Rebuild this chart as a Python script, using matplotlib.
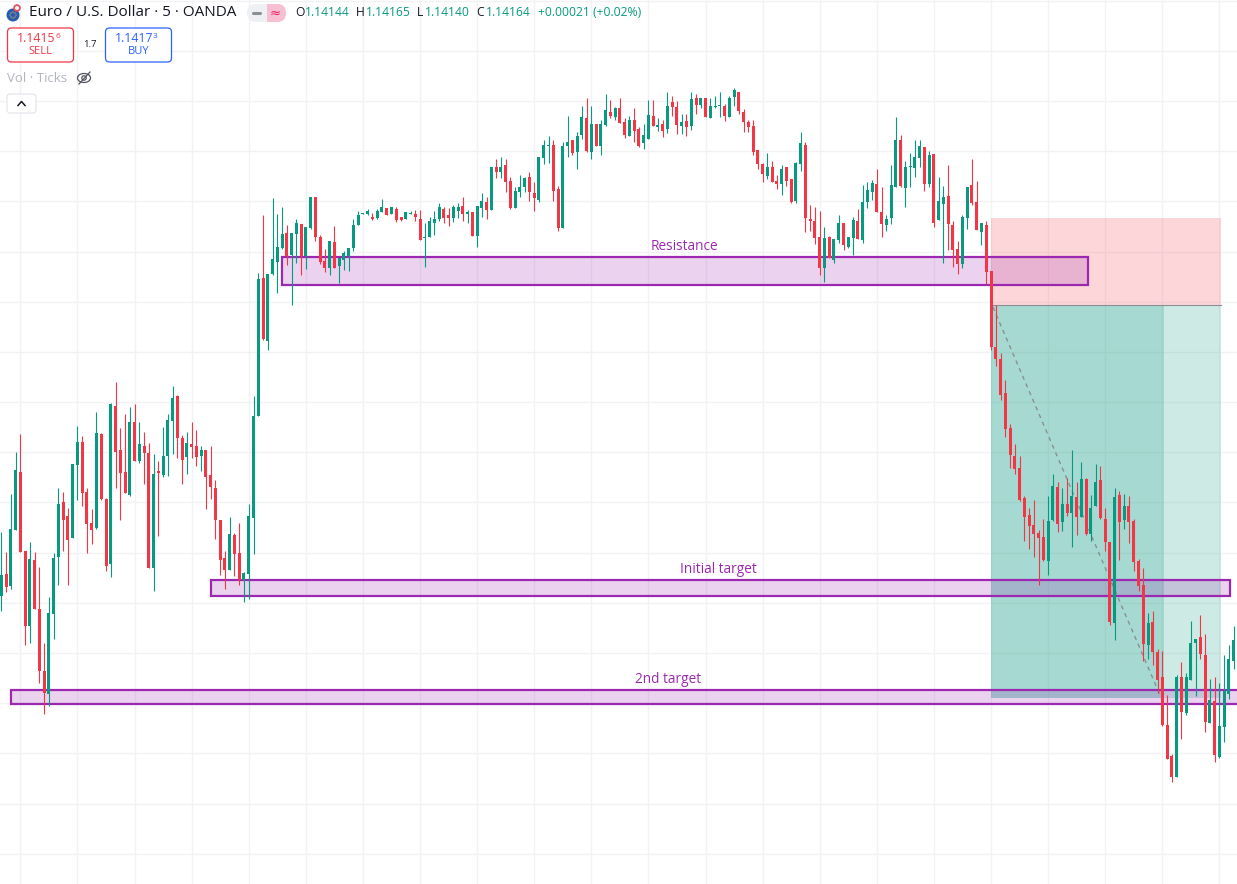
import matplotlib
matplotlib.use("Agg")
import matplotlib.pyplot as plt
import numpy as np
from matplotlib.patches import Circle, Ellipse, FancyBboxPatch, Rectangle

# Candles, in chart points above PRICE_BASE (one point is about one pipette)
opens = [
  404,426,414,470,528,449,374,440,391,329, 306,386,443,498,484,462,535,558,508,477,
  472,566,501,436,594,550,528,505,578,539, 554,547,432,529,525,544,579,604,562,543,
  556,554,544,550,525,512,480,442,430,465, 447,420,426,482,584,722,659,726,738,752,
  767,745,766,776,744,772,803,763,739,732, 758,734,740,744,752,775,786,786,783,782,
  788,792,786,791,783,781,786,786,781,762, 763,777,781,791,785,782,789,794,786,788,
  764,792,798,790,833,828,835,819,792,808, 813,823,807,800,842,854,855,811,772,854,
  860,848,865,882,848,876,854,875,888,883, 892,878,864,880,871,857,861,884,873,876,
  871,898,893,874,879,874,902,895,902,882, 893,894,894,883,903,908,888,878,874,850,
  836,824,833,819,816,833,821,799,836,855, 781,779,763,732,763,740,760,777,753,762,
  779,760,798,808,816,788,775,782,813,860, 812,833,832,842,853,816,846,780,796,804,
  775,751,736,782,815,798,768,775,729,653, 641,607,572,544,532,502,485,475,467,463,
  439,480,513,478,496,487,503,483,521,466, 494,520,481,458,377,505,480,494,479,439,
  415,355,378,348,323,275,244,223,323,287, 320,357,363,345,277,299,243,273,306,339,
]
closes = [
  425,413,471,530,448,374,441,391,329,307, 387,442,496,480,460,536,558,507,476,470,
  567,501,434,596,548,527,507,578,539,556, 547,432,526,527,544,580,602,562,540,557,
  553,543,550,523,513,480,440,430,466,446, 420,427,484,584,721,661,726,741,753,766,
  744,767,777,744,773,803,763,738,732,759, 732,742,747,752,775,785,787,789,781,789,
  793,785,793,780,780,788,787,783,760,763, 779,781,793,782,782,793,793,786,788,764,
  794,799,790,833,828,833,818,792,809,813, 822,808,802,843,855,855,809,772,854,858,
  847,864,883,849,876,854,876,890,884,892, 877,865,880,869,854,865,885,874,875,869,
  894,893,875,878,873,901,895,902,883,894, 894,895,884,902,910,889,878,873,848,836,
  826,833,818,816,831,819,798,837,857,782, 779,762,732,762,742,761,777,755,763,780,
  761,798,810,817,788,776,781,815,860,814, 833,834,843,854,816,845,777,799,803,776,
  750,736,783,813,797,770,777,728,653,641, 605,571,545,531,500,483,474,466,462,440,
  479,514,476,496,487,504,483,521,466,492, 518,482,458,378,503,478,494,478,438,414,
  356,377,348,320,275,241,223,323,288,323, 357,361,346,278,300,245,274,309,341,360,
]
highs = [
  468,448,506,548,566,449,458,448,433,357, 403,447,512,508,492,536,574,564,512,491,
  588,567,502,597,618,572,586,593,596,578, 568,557,546,539,573,586,614,605,565,568,
  578,570,554,550,554,520,480,449,483,467, 477,428,496,604,727,785,726,802,786,793,
  775,767,781,776,773,803,803,765,751,759, 774,742,749,752,781,789,787,791,787,791,
  801,792,793,793,783,788,789,790,790,777, 783,789,797,793,792,795,797,803,790,788,
  794,807,803,833,841,843,841,823,813,825, 823,828,818,843,860,864,860,814,858,884,
  860,868,894,902,894,876,880,906,900,893, 902,882,884,892,873,876,900,900,882,880,
  908,904,899,886,886,908,906,902,902,902, 904,908,896,904,912,908,891,880,880,850,
  837,847,839,825,835,833,821,838,868,858, 795,793,789,773,764,761,785,777,763,783,
  791,815,818,820,831,813,785,835,883,865, 839,847,860,860,853,849,846,823,814,835,
  779,759,785,813,841,819,777,779,729,695, 647,620,576,556,544,504,492,500,470,481,
  504,526,518,512,522,550,518,538,522,505, 536,534,492,458,512,509,506,504,481,441,
  432,387,389,351,349,305,246,325,338,327, 379,361,385,366,321,323,317,345,355,374,
]
lows = [
  389,408,411,470,448,355,357,391,317,286, 294,361,415,449,415,462,500,494,447,456,
  471,500,429,423,512,480,507,504,539,537, 516,432,409,464,523,524,546,542,516,526,
  542,534,529,491,501,461,425,411,430,424, 415,398,401,446,584,660,650,725,707,751,
  735,695,737,725,731,771,759,736,728,725, 732,717,730,729,749,775,786,785,780,781,
  788,785,786,778,779,781,786,779,760,733, 763,765,779,777,774,778,782,779,777,764,
  753,783,781,790,822,822,808,791,792,803, 808,799,789,798,836,837,799,769,772,843,
  845,831,861,848,841,854,845,874,882,880, 877,862,864,858,853,851,861,874,869,863,
  867,884,866,866,864,870,886,892,883,882, 892,883,879,883,894,886,868,868,845,831,
  818,821,818,811,805,814,797,797,829,768, 769,756,725,718,742,737,757,750,752,745,
  761,757,792,800,788,763,769,776,813,813, 793,813,823,833,809,813,773,780,737,750,
  733,726,732,771,795,770,755,716,650,634, 600,563,532,526,499,459,451,443,415,439,
  425,479,468,469,484,453,465,483,465,459, 494,481,449,375,360,440,471,457,429,409,
  339,341,335,307,274,241,218,223,261,285, 320,304,341,268,277,238,242,258,301,331,
]

# Support/resistance zones: name, first bar, last bar, upper, lower
zone_names = ["Resistance", "Initial target", "2nd target"]
zone_starts = [59.0, 44.1, 2.0]
zone_ends = [228.3, 258.3, 262.0]
zone_tops = [743, 420, 310]
zone_bottoms = [715, 404, 296]
zone_label_bars = [143.5, 150.6, 140.1]

# Short position tool
pos_start, pos_now, pos_end = 208.0, 244.3, 256.4
pos_stop, pos_entry, pos_target = 782, 695, 302

GREEN = "#089981"
RED = "#F23645"
PURPLE = "#9C27B0"
GRID = "#F2F2F4"

PRICE_BASE = 1.1415
POINT = 0.0005 / 50.17


def to_price(points):
  return PRICE_BASE + (np.asarray(points, dtype=float) - 347) * POINT


opens_p, closes_p = to_price(opens), to_price(closes)
highs_p, lows_p = to_price(highs), to_price(lows)
bars = np.arange(len(opens))

plt.rcParams["font.family"] = ["Open Sans", "DejaVu Sans"]
fig = plt.figure(figsize=(12.37, 8.84), dpi=100)
ax = fig.add_axes([0, 0, 1, 1])
for s in ax.spines.values():
  s.set_visible(False)
ax.set_xticks(np.arange(4, 260, 12))
ax.set_yticks(np.arange(1.1390, 1.1485, 0.0005))
ax.set_xlim(-0.28, 259.7)
ax.set_ylim(to_price(116), to_price(1000))
ax.tick_params(length=0, labelleft=False, labelbottom=False)
ax.grid(True, color=GRID, lw=1.0)
ax.set_axisbelow(True)

# position boxes
ax.add_patch(Rectangle((pos_start, to_price(pos_entry)), pos_end - pos_start,
                       to_price(pos_stop) - to_price(pos_entry), fc=RED, alpha=0.2, lw=0, zorder=2))
ax.add_patch(Rectangle((pos_start, to_price(pos_target)), pos_end - pos_start,
                       to_price(pos_entry) - to_price(pos_target), fc=GREEN, alpha=0.2, lw=0, zorder=2))
ax.add_patch(Rectangle((pos_start, to_price(pos_target)), pos_now - pos_start,
                       to_price(pos_entry) - to_price(pos_target), fc=GREEN, alpha=0.2, lw=0, zorder=2))
ax.plot([pos_start, pos_end], to_price([pos_entry, pos_entry]), color="#8a8f94", lw=0.8, zorder=2.1)
ax.plot([pos_start + 0.4, pos_now - 0.6, pos_now], to_price([693, 303, 303]), color="#8a8f94",
        lw=1.0, dashes=(3, 3), zorder=2.2)

# zones
for name, a, b, top, bot, lab in zip(zone_names, zone_starts, zone_ends, zone_tops, zone_bottoms, zone_label_bars):
  ax.add_patch(Rectangle((a, to_price(bot)), b - a, to_price(top) - to_price(bot),
                         fc=(0.612, 0.153, 0.69, 0.2), ec=PURPLE, lw=1.6, zorder=3))
  ax.text(lab, to_price(top + 3), name, color=PURPLE, fontsize=9.8, ha="center", va="bottom", zorder=3)

# candles
colors = [GREEN if c >= o else RED for o, c in zip(opens, closes)]
ax.vlines(bars, lows_p, highs_p, colors=colors, lw=0.8, zorder=4)
ax.bar(bars, np.abs(closes_p - opens_p), bottom=np.minimum(opens_p, closes_p), width=0.631,
       color=colors, lw=0, zorder=5)

# header, in screen pixels on top of the chart
ui = fig.add_axes([0, 0, 1, 1])
ui.set_xlim(0, 1237)
ui.set_ylim(884, 0)
ui.axis("off")
ui.patch.set_alpha(0)

ui.add_patch(Circle((13, 15), 6.5, fc="#2a5bb0", lw=0))
for dx, dy in [(-3, 0), (3, 0), (0, -3), (0, 3), (-2, -2), (2, 2), (-2, 2), (2, -2)]:
  ui.add_patch(Circle((13 + dx, 15 + dy), 0.6, fc="#f2c94c", lw=0))
ui.add_patch(Circle((17, 8), 3.8, fc="#e8505b", lw=0))
ui.add_patch(Circle((17, 8), 2, fc="#f6f6f6", lw=0))
ui.text(29, 13, "Euro / U.S. Dollar · 5 · OANDA", fontsize=11.0, color="#131722", va="center")

pill = FancyBboxPatch((256, 13), 21, 0, boxstyle="round,pad=9,rounding_size=9", fc="#EEF0F3", lw=0)
ui.add_patch(pill)
half = Rectangle((266.5, 4), 21, 18, fc="#F7BFD2", lw=0)
ui.add_patch(half)
half.set_clip_path(pill)
ui.plot([253, 260], [13, 13], color="#8a8e97", lw=2.2, solid_capstyle="round")
ui.text(275.5, 13, "≈", color="#E91E63", fontsize=9.5, ha="center", va="center", family="DejaVu Sans")

ohlc_letters = ["O", "H", "L", "C"]
ohlc_values = ["1.14144", "1.14165", "1.14140", "1.14164"]
for letter, value, x0, x1 in zip(ohlc_letters, ohlc_values, [295, 356, 417, 476], [305, 366, 425, 486]):
  ui.text(x0, 13, letter, color="#131722", fontsize=8.7, va="center")
  ui.text(x1, 13, value, color=GREEN, fontsize=8.7, va="center")
ui.text(538, 13, "+0.00021 (+0.02%)", color=GREEN, fontsize=8.7, va="center")

for x0, col, big, small, word in [(7.5, RED, "1.1415", "6", "SELL"), (105.5, "#2962FF", "1.1417", "3", "BUY")]:
  box = FancyBboxPatch((x0 + 3, 31), 60, 28, boxstyle="round,pad=3,rounding_size=4", fc="white", ec=col, lw=0.9)
  ui.add_patch(box)
  ui.text(x0 + 29, 38, big, color=col, fontsize=8.8, ha="center", va="center", fontweight="medium")
  ui.text(x0 + 50, 36, small, color=col, fontsize=6, ha="center", va="center")
  ui.text(x0 + 33, 52, word, color=col, fontsize=8, ha="center", va="center")
ui.text(90, 44.5, "1.7", color="#131722", fontsize=6.8, ha="center", va="center")

ui.text(7, 78, "Vol · Ticks", color="#B2B5BE", fontsize=9.5, va="center")
ui.add_patch(Ellipse((84, 78), 13, 9, fc="none", ec="#50535e", lw=0.9))
ui.add_patch(Circle((84, 78), 2.2, fc="none", ec="#50535e", lw=0.9))
ui.plot([79, 90], [84, 72], color="#50535e", lw=0.9)

ui.add_patch(FancyBboxPatch((9, 96), 25, 15, boxstyle="round,pad=2,rounding_size=3", fc="white", ec="#E0E3EB", lw=0.8))
ui.plot([18, 21.5, 25], [105.5, 101.5, 105.5], color="#131722", lw=1.1)

fig.savefig("out.png", dpi=100)
